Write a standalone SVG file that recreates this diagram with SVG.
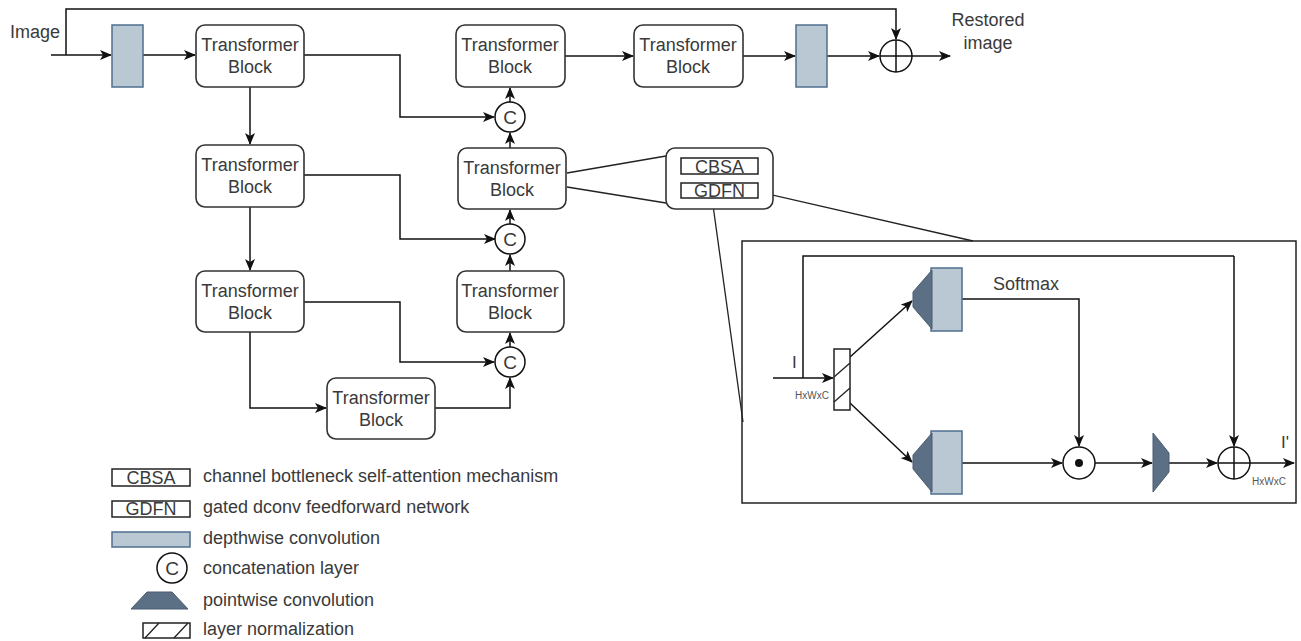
<svg xmlns="http://www.w3.org/2000/svg" width="1301" height="641" viewBox="0 0 1301 641">
<defs>
<style>
.tb{fill:#fff;stroke:#333;stroke-width:1.6}
.dw{fill:#bac8d3;stroke:#4f6f8f;stroke-width:1.5}
.pw{fill:#5b6f85;stroke:#4a5c70;stroke-width:1}
.ln{fill:none;stroke:#111;stroke-width:1.5}
.la{fill:none;stroke:#111;stroke-width:1.5;marker-end:url(#ah)}
.thin{fill:none;stroke:#222;stroke-width:1.3}
.op{fill:#fff;stroke:#111;stroke-width:1.5}
.t{font-family:"Liberation Sans",Arial,sans-serif;font-size:18px;fill:#3a3a3a}
.tc{font-family:"Liberation Sans",Arial,sans-serif;font-size:18px;fill:#3a3a3a;text-anchor:middle}
.sm{font-family:"Liberation Sans",Arial,sans-serif;font-size:10px;fill:#555;text-anchor:middle}
.rb{fill:#fff;stroke:#222;stroke-width:1.5}
</style>
<marker id="ah" viewBox="0 0 12 10" refX="11" refY="5" markerWidth="12" markerHeight="10" markerUnits="userSpaceOnUse" orient="auto">
<path d="M0,0 L12,5 L0,10 L3,5 z" fill="#111"/>
</marker>
</defs>
<rect width="1301" height="641" fill="#fff"/>

<g id="connectors">
<path class="la" d="M51,55 H111"/>
<path class="la" d="M66,55 V9 H896 V39"/>
<path class="la" d="M143,55 H195"/>
<path class="la" d="M565,56 H633"/>
<path class="la" d="M743,56 H795"/>
<path class="la" d="M827,56 H879"/>
<path class="la" d="M912,56 H950"/>
<path class="la" d="M304,55 H400 V117 H494"/>
<path class="la" d="M304,175 H400 V239 H495"/>
<path class="la" d="M304,302 H400 V362 H494"/>
<path class="la" d="M250,87 V144"/>
<path class="la" d="M250,207 V270"/>
<path class="la" d="M250,332 V408 H326"/>
<path class="la" d="M435,408 H510 V378"/>
<path class="la" d="M510,347 V333"/>
<path class="la" d="M510,271 V255"/>
<path class="la" d="M510,224 V210"/>
<path class="la" d="M510,148 V133"/>
<path class="la" d="M510,102 V88"/>
<path class="thin" d="M567,173 L666,156"/>
<path class="thin" d="M567,187 L666,203"/>
<path class="thin" d="M759,192 L973,241"/>
<path class="thin" d="M712,198 L743,422"/>
</g>

<g id="image-label"><text class="t" x="10" y="38">Image</text></g>
<g id="dw1"><rect class="dw" x="112" y="25" width="31" height="62"/></g>
<g id="tb1"><rect class="tb" x="196" y="25" width="108" height="62" rx="9"/><text class="tc" x="250" y="51">Transformer</text><text class="tc" x="250" y="73">Block</text></g>
<g id="tb2"><rect class="tb" x="196" y="145" width="108" height="62" rx="9"/><text class="tc" x="250" y="171">Transformer</text><text class="tc" x="250" y="193">Block</text></g>
<g id="tb3"><rect class="tb" x="196" y="271" width="108" height="61" rx="9"/><text class="tc" x="250" y="297">Transformer</text><text class="tc" x="250" y="319">Block</text></g>
<g id="tb4"><rect class="tb" x="327" y="378" width="108" height="61" rx="9"/><text class="tc" x="381" y="404">Transformer</text><text class="tc" x="381" y="426">Block</text></g>
<g id="tb5"><rect class="tb" x="457" y="271" width="107" height="61" rx="9"/><text class="tc" x="510" y="297">Transformer</text><text class="tc" x="510" y="319">Block</text></g>
<g id="tb6"><rect class="tb" x="458" y="148" width="108" height="61" rx="9"/><text class="tc" x="512" y="174">Transformer</text><text class="tc" x="512" y="196">Block</text></g>
<g id="tb7"><rect class="tb" x="456" y="25" width="109" height="62" rx="9"/><text class="tc" x="510" y="51">Transformer</text><text class="tc" x="510" y="73">Block</text></g>
<g id="tb8"><rect class="tb" x="634" y="25" width="109" height="62" rx="9"/><text class="tc" x="688" y="51">Transformer</text><text class="tc" x="688" y="73">Block</text></g>
<g id="dw2"><rect class="dw" x="796" y="25" width="31" height="62"/></g>
<g id="add1"><circle class="op" cx="896" cy="56" r="16"/><path class="ln" d="M880,56 H912 M896,40 V72"/></g>
<g id="restored"><text class="tc" x="988" y="26">Restored</text><text class="tc" x="988" y="49">image</text></g>
<g id="c1"><circle class="op" cx="510" cy="117" r="15"/><text class="tc" x="510" y="124" style="font-size:19px">C</text></g>
<g id="c2"><circle class="op" cx="510" cy="239" r="15"/><text class="tc" x="510" y="246" style="font-size:19px">C</text></g>
<g id="c3"><circle class="op" cx="510" cy="362" r="15"/><text class="tc" x="510" y="369" style="font-size:19px">C</text></g>

<g id="block-detail">
<rect class="tb" x="666" y="148" width="107" height="61" rx="9"/>
<rect class="rb" x="681" y="158" width="77" height="16"/><text class="tc" x="719.5" y="172.5">CBSA</text>
<rect class="rb" x="681" y="183" width="77" height="15"/><text class="tc" x="719.5" y="197">GDFN</text>
</g>

<g id="detail-box">
<rect x="742" y="241" width="554" height="262" fill="none" stroke="#222" stroke-width="1.5"/>
<g id="inner-connectors">
<path class="la" d="M773,378 H833"/>
<path class="ln" d="M803,378 V256 H1234"/>
<path class="la" d="M1234,256 V446"/>
<path class="la" d="M850,357 L912,301"/>
<path class="la" d="M850,403 L912,462"/>
<path class="la" d="M962,299 H1079 V446"/>
<path class="la" d="M962,463 H1062"/>
<path class="la" d="M1095,463 H1152"/>
<path class="la" d="M1169,463 H1217"/>
<path class="la" d="M1250,463 H1294"/>
</g>
<text class="t" x="792" y="368" style="font-size:17px">I</text>
<text class="sm" x="812" y="399">HxWxC</text>
<g id="ln-node"><rect class="rb" x="834" y="349" width="16" height="61"/><path class="thin" d="M834,377 L850,363 M834,402 L850,388"/></g>
<g id="up-branch"><rect class="dw" x="931" y="268" width="31" height="63"/><polygon class="pw" points="913,292 932,270 932,329 913,307"/></g>
<g id="low-branch"><rect class="dw" x="931" y="431" width="31" height="63"/><polygon class="pw" points="913,455 932,433 932,492 913,469"/></g>
<text class="t" x="993" y="290">Softmax</text>
<g id="mul"><circle class="op" cx="1079" cy="463" r="16"/><circle cx="1079" cy="463" r="4" fill="#111"/></g>
<g id="pw-out"><polygon class="pw" points="1153,433 1169,453 1169,472 1153,492"/></g>
<g id="add2"><circle class="op" cx="1234" cy="463" r="16"/><path class="ln" d="M1218,463 H1250 M1234,447 V479"/></g>
<text class="t" x="1281" y="448" style="font-size:17px">I'</text>
<text class="sm" x="1269" y="485">HxWxC</text>
</g>

<g id="legend">
<rect class="rb" x="112" y="469" width="78" height="17"/><text class="tc" x="151" y="484">CBSA</text>
<text class="t" x="203" y="482">channel bottleneck self-attention mechanism</text>
<rect class="rb" x="112" y="501" width="78" height="16"/><text class="tc" x="151" y="515">GDFN</text>
<text class="t" x="203" y="513">gated dconv feedforward network</text>
<rect class="dw" x="112" y="532" width="78" height="15"/>
<text class="t" x="203" y="544">depthwise convolution</text>
<circle class="op" cx="172" cy="568" r="15"/><text class="tc" x="172" y="575" style="font-size:19px">C</text>
<text class="t" x="203" y="574">concatenation layer</text>
<polygon class="pw" points="131,609 147,592 172,592 188,609"/>
<text class="t" x="203" y="606">pointwise convolution</text>
<rect class="rb" x="143" y="623" width="47" height="15"/><path class="thin" d="M145,638 L159,623 M174,638 L188,623"/>
<text class="t" x="203" y="635">layer normalization</text>
</g>
</svg>
